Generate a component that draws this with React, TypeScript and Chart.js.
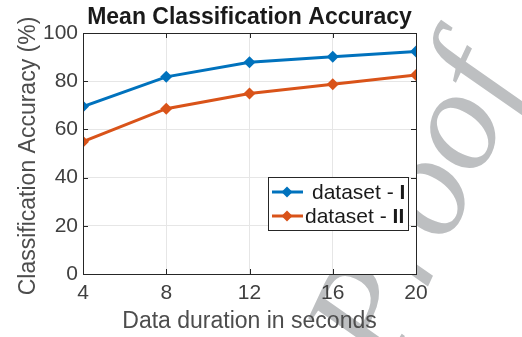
import React, { useEffect, useRef } from "react";
import { Chart, registerables } from "chart.js";

Chart.register(...registerables);

const durations = [4, 8, 12, 16, 20];
const datasetI = [69.5, 81.8, 87.9, 90.1, 92.3];
const datasetII = [54.9, 68.6, 74.9, 78.7, 82.6];
const seriesNames = ["dataset - I", "dataset - II"];
const seriesColors = ["#0072BD", "#D95319"];
const xTicks = [4, 8, 12, 16, 20];
const yTicks = [0, 20, 40, 60, 80, 100];
const titleText = "Mean Classification Accuracy";
const xLabel = "Data duration in seconds";
const yLabel = "Classification Accuracy (%)";
const watermark = "Proof";

const SANS = "'Liberation Sans', Arial, Helvetica, sans-serif";

const decor = {
  id: "decor",
  beforeDraw(chart: any) {
    const ctx = chart.ctx;
    const a = chart.chartArea;
    ctx.save();
    ctx.fillStyle = "#ffffff";
    ctx.fillRect(0, 0, chart.width, chart.height);
    // watermark (behind the axes, which have a white background)
    ctx.save();
    ctx.translate(388, 372);
    ctx.rotate((-65 * Math.PI) / 180);
    ctx.fillStyle = "#bdbfc1";
    ctx.font = "italic 145px 'Liberation Serif', 'Times New Roman', serif";
    ctx.textAlign = "left";
    ctx.textBaseline = "alphabetic";
    ctx.fillText(watermark, 0, 0);
    ctx.restore();
    ctx.fillStyle = "#ffffff";
    ctx.fillRect(a.left, a.top, a.right - a.left, a.bottom - a.top);
    ctx.restore();
  },
  afterDatasetsDraw(chart: any) {
    const ctx = chart.ctx;
    const a = chart.chartArea;
    const xs = chart.scales.x;
    const ys = chart.scales.y;
    ctx.save();
    // box
    ctx.strokeStyle = "#262626";
    ctx.lineWidth = 1;
    ctx.strokeRect(Math.round(a.left) + 0.5, Math.round(a.top) + 0.5, Math.round(a.right - a.left), Math.round(a.bottom - a.top));
    // inner ticks
    const tl = 5;
    ctx.beginPath();
    for (const v of xTicks) {
      const px = Math.round(xs.getPixelForValue(v)) + 0.5;
      ctx.moveTo(px, a.bottom);
      ctx.lineTo(px, a.bottom - tl);
      ctx.moveTo(px, a.top);
      ctx.lineTo(px, a.top + tl);
    }
    for (const v of yTicks) {
      const py = Math.round(ys.getPixelForValue(v)) + 0.5;
      ctx.moveTo(a.left, py);
      ctx.lineTo(a.left + tl, py);
      ctx.moveTo(a.right, py);
      ctx.lineTo(a.right - tl, py);
    }
    ctx.stroke();

    // title
    ctx.fillStyle = "#1a1a1a";
    ctx.font = "bold 23px " + SANS;
    ctx.textAlign = "center";
    ctx.textBaseline = "alphabetic";
    ctx.fillText(titleText, (a.left + a.right) / 2, 24);

    // axis labels
    ctx.fillStyle = "#4d4d4d";
    ctx.font = "23px " + SANS;
    ctx.fillText(xLabel, (a.left + a.right) / 2, 328);
    ctx.save();
    ctx.translate(35, 156);
    ctx.rotate(-Math.PI / 2);
    ctx.fillText(yLabel, 0, 0);
    ctx.restore();

    // legend
    const lx = 268, ly = 177, lw = 140, lh = 53;
    ctx.fillStyle = "#ffffff";
    ctx.fillRect(lx, ly, lw, lh);
    ctx.strokeStyle = "#262626";
    ctx.lineWidth = 1;
    ctx.strokeRect(lx + 0.5, ly + 0.5, lw, lh);
    const rows = [192, 216];
    const textX = [312, 305];
    seriesNames.forEach((name, i) => {
      const y = rows[i];
      ctx.strokeStyle = seriesColors[i];
      ctx.lineWidth = 3;
      ctx.beginPath();
      ctx.moveTo(272, y);
      ctx.lineTo(303, y);
      ctx.stroke();
      ctx.fillStyle = seriesColors[i];
      ctx.beginPath();
      ctx.moveTo(287, y - 5.5);
      ctx.lineTo(292.5, y);
      ctx.lineTo(287, y + 5.5);
      ctx.lineTo(281.5, y);
      ctx.closePath();
      ctx.fill();
      const dash = name.lastIndexOf(" ");
      const head = name.slice(0, dash + 1);
      const tail = name.slice(dash + 1);
      ctx.fillStyle = "#1a1a1a";
      ctx.textAlign = "left";
      ctx.textBaseline = "middle";
      ctx.font = "21px " + SANS;
      ctx.fillText(head, textX[i], y + 1);
      const w = ctx.measureText(head).width;
      ctx.font = "bold 21px " + SANS;
      ctx.fillText(tail, textX[i] + w, y + 1);
    });
    ctx.restore();
  },
};

export default function App() {
  const ref = useRef<HTMLCanvasElement>(null);
  useEffect(() => {
    document.body.style.margin = "0";
    const canvas = ref.current!;
    const chart = new Chart(canvas, {
      type: "line",
      data: {
        datasets: [datasetI, datasetII].map((vals, i) => ({
          label: seriesNames[i],
          data: durations.map((d, j) => ({ x: d, y: vals[j] })),
          borderColor: seriesColors[i],
          backgroundColor: seriesColors[i],
          borderWidth: 3,
          pointStyle: "rectRot",
          pointRadius: 6,
          pointBorderWidth: 0,
          tension: 0,
        })),
      },
      options: {
        responsive: false,
        animation: false,
        devicePixelRatio: 1,
        layout: { padding: { top: 33, right: 106, left: 0, bottom: 0 } },
        plugins: { legend: { display: false }, title: { display: false }, tooltip: { enabled: false } },
        scales: {
          x: {
            type: "linear",
            min: 4,
            max: 20,
            afterFit: (s: any) => { s.height = 63; },
            afterBuildTicks: (s: any) => { s.ticks = xTicks.map((v) => ({ value: v })); },
            ticks: { font: { size: 21, family: SANS }, color: "#404040", padding: 7, maxRotation: 0 },
            grid: { color: "#e6e6e6", drawTicks: false },
            border: { display: false },
          },
          y: {
            type: "linear",
            min: 0,
            max: 100,
            afterFit: (s: any) => { s.width = 83; },
            afterBuildTicks: (s: any) => { s.ticks = yTicks.map((v) => ({ value: v })); },
            ticks: { font: { size: 21, family: SANS }, color: "#404040", padding: 5 },
            grid: { color: "#e6e6e6", drawTicks: false },
            border: { display: false },
          },
        },
      },
      plugins: [decor],
    });
    return () => chart.destroy();
  }, []);
  return <canvas ref={ref} width={522} height={337} style={{ display: "block" }} />;
}
